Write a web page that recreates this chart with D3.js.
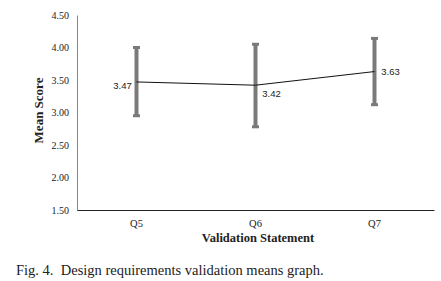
<!DOCTYPE html>
<html>
<head>
<meta charset="utf-8">
<script src="https://cdn.jsdelivr.net/npm/d3@7"></script>
<style>
  body { margin: 0; background: #fff; }
  svg { display: block; }
</style>
</head>
<body>
<div id="chart"></div>
<script>
const categories = ["Q5", "Q6", "Q7"];
const means = [3.47, 3.42, 3.63];
const upper = [4.00, 4.05, 4.14];
const lower = [2.95, 2.78, 3.12];
const yTicks = [1.5, 2.0, 2.5, 3.0, 3.5, 4.0, 4.5];

const W = 441, H = 281;
const margin = { top: 15, right: 7, bottom: 71, left: 77 };
const width = W - margin.left - margin.right,
      height = H - margin.top - margin.bottom;

const svg = d3.select("#chart").append("svg")
    .attr("width", W)
    .attr("height", H);

const g = svg.append("g")
    .attr("transform", `translate(${margin.left},${margin.top})`);

const x = d3.scaleBand()
    .domain(categories)
    .range([0, width]);

const y = d3.scaleLinear()
    .domain([1.5, 4.5])
    .range([height, 0]);

const serif = "'Liberation Serif', 'Times New Roman', serif";
const sans = "'Liberation Sans', Arial, sans-serif";

// y axis
const yAxis = g.append("g")
    .call(d3.axisLeft(y).tickValues(yTicks).tickSize(0).tickPadding(8).tickFormat(d3.format(".2f")));
yAxis.select(".domain").attr("stroke", "#888").attr("stroke-width", 1);
yAxis.selectAll("text")
    .style("font-family", serif)
    .style("font-size", "10px")
    .attr("fill", "#222");

// x axis
const xAxis = g.append("g")
    .attr("transform", `translate(0,${height})`)
    .call(d3.axisBottom(x).tickSize(0).tickPadding(10));
xAxis.select(".domain").attr("stroke", "#222").attr("stroke-width", 1.2);
xAxis.selectAll("text")
    .style("font-family", serif)
    .style("font-size", "10.5px")
    .attr("fill", "#222");

const cx = d => x(d) + x.bandwidth() / 2;
const pts = categories.map((c, i) => ({ c, m: means[i], hi: upper[i], lo: lower[i] }));

// error bars
const eb = g.selectAll(".eb").data(pts).enter().append("g").attr("class", "eb");
eb.append("line")
    .attr("x1", d => cx(d.c)).attr("x2", d => cx(d.c))
    .attr("y1", d => y(d.hi)).attr("y2", d => y(d.lo))
    .attr("stroke", "#7a7a7a").attr("stroke-width", 4);
["hi", "lo"].forEach(k => {
    eb.append("line")
        .attr("x1", d => cx(d.c) - 3.5).attr("x2", d => cx(d.c) + 3.5)
        .attr("y1", d => y(d[k])).attr("y2", d => y(d[k]))
        .attr("stroke", "#7a7a7a").attr("stroke-width", 3);
});

// mean line
g.append("path")
    .datum(pts)
    .attr("fill", "none")
    .attr("stroke", "#111")
    .attr("stroke-width", 1)
    .attr("d", d3.line().x(d => cx(d.c)).y(d => y(d.m)));

// value labels
const labelPos = [
    { dx: -14, dy: 7 },
    { dx: 16, dy: 12 },
    { dx: 16, dy: 3.5 }
];
g.selectAll(".vlab").data(pts).enter().append("text")
    .attr("x", (d, i) => cx(d.c) + labelPos[i].dx)
    .attr("y", (d, i) => y(d.m) + labelPos[i].dy)
    .attr("text-anchor", "middle")
    .style("font-family", sans)
    .style("font-size", "9.5px")
    .attr("fill", "#222")
    .text(d => d.m.toFixed(2));

// axis titles
svg.append("text")
    .attr("transform", `translate(43,${margin.top + height / 2 - 2}) rotate(-90)`)
    .attr("text-anchor", "middle")
    .style("font-family", serif)
    .style("font-size", "13px")
    .style("font-weight", "bold")
    .attr("fill", "#222")
    .text("Mean Score");

svg.append("text")
    .attr("x", margin.left + width / 2 + 2.5)
    .attr("y", 241.5)
    .attr("text-anchor", "middle")
    .style("font-family", serif)
    .style("font-size", "12.5px")
    .style("font-weight", "bold")
    .attr("fill", "#222")
    .text("Validation Statement");

// caption
svg.append("text")
    .attr("x", 16)
    .attr("y", 275)
    .style("font-family", serif)
    .style("font-size", "14.5px")
    .style("white-space", "pre")
    .attr("fill", "#222")
    .text("Fig. 4.  Design requirements validation means graph.");
</script>
</body>
</html>
